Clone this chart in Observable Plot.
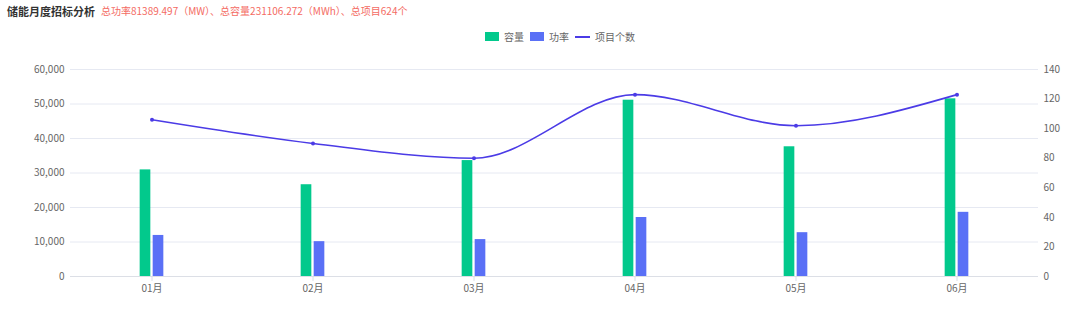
<!DOCTYPE html>
<html><head><meta charset="utf-8">
<script src="https://cdn.jsdelivr.net/npm/d3@7"></script>
<script src="https://cdn.jsdelivr.net/npm/@observablehq/plot@0.6"></script>
<style>
body{margin:0;background:#fff;font-family:"Noto Sans CJK SC","Noto Sans",sans-serif;}
#wrap{position:relative;width:1080px;height:309px;overflow:hidden;}
#head{position:absolute;left:0;top:0;width:1080px;height:50px;}
#title{position:absolute;left:7px;top:3px;font-size:11px;line-height:16px;font-weight:bold;color:#333;white-space:nowrap;}
#sub{position:absolute;left:101px;top:4px;font-size:10px;line-height:14px;color:#f46b63;white-space:nowrap;}
#legend{position:absolute;left:485px;top:29px;display:flex;align-items:center;font-size:10px;color:#666;white-space:nowrap;}
.sw{display:inline-block;width:14px;height:9px;margin-right:5px;}
.ln{display:inline-block;width:15px;height:2px;margin-right:5px;}
.it{display:flex;align-items:center;margin-right:6px;}
#chart{position:absolute;left:0;top:50px;}
</style></head>
<body>
<div id="wrap">
<div id="head">
<div id="title">储能月度招标分析</div>
<div id="sub">总功率81389.497（MW）、总容量231106.272（MWh）、总项目624个</div>
<div id="legend"></div>
</div>
<div id="chart"></div>
</div>
<script>
const months = ["01月","02月","03月","04月","05月","06月"];
const capacity = [30900, 26600, 33600, 51100, 37600, 51500];   // 容量 MWh
const power = [11900, 10100, 10700, 17100, 12700, 18600];      // 功率 MW
const projects = [106, 90, 80, 123, 102, 123];                 // 项目个数
const leftTicks = [0, 10000, 20000, 30000, 40000, 50000, 60000];
const rightTicks = [0, 20, 40, 60, 80, 100, 120, 140];
const seriesNames = ["容量", "功率", "项目个数"];
const colors = {green: "#02c98c", blue: "#5a70f6", line: "#4b3be6"};

const k = 60000 / 140;
const rows = months.map((m, i) => ({month: m, cap: capacity[i], pow: power[i], cnt: projects[i], cntScaled: projects[i] * k}));

// legend
const lg = document.getElementById("legend");
lg.innerHTML =
  `<span class="it"><span class="sw" style="background:${colors.green}"></span>${seriesNames[0]}</span>` +
  `<span class="it"><span class="sw" style="background:${colors.blue}"></span>${seriesNames[1]}</span>` +
  `<span class="it"><span class="ln" style="background:${colors.line}"></span>${seriesNames[2]}</span>`;

const W = 1080, H = 259, mL = 70, mR = 42;
const bw = (W - mL - mR) / months.length;

const chart = Plot.plot({
  width: W, height: H,
  marginTop: 19, marginBottom: 33, marginLeft: mL, marginRight: mR,
  style: {fontFamily: '"Noto Sans CJK SC","Noto Sans",sans-serif', fontSize: "10px", color: "#666", background: "#fff"},
  x: {type: "band", domain: months, padding: 0, label: null},
  y: {domain: [0, 60000], label: null},
  marks: [
    Plot.gridY(leftTicks, {stroke: "#e6e9f2", strokeOpacity: 1}),
    Plot.barY(rows, {x: "month", y: "cap", fill: colors.green, insetLeft: bw/2 - 12, insetRight: bw/2 + 1}),
    Plot.barY(rows, {x: "month", y: "pow", fill: colors.blue, insetLeft: bw/2 + 1, insetRight: bw/2 - 12}),
    Plot.ruleY([0], {stroke: "#dcdfe6"}),
    Plot.lineY(rows, {x: "month", y: "cntScaled", stroke: colors.line, strokeWidth: 1.6, curve: "monotone-x"}),
    Plot.dot(rows, {x: "month", y: "cntScaled", r: 2, fill: colors.line}),
    Plot.axisY(leftTicks, {anchor: "left", tickSize: 0, tickPadding: 6, tickFormat: d => d3.format(",")(d), label: null, fill: "#666"}),
    Plot.axisY(rightTicks.map(v => v * k), {anchor: "right", tickSize: 0, tickPadding: 5, tickFormat: d => Math.round(d / k), label: null, fill: "#666"}),
    Plot.axisX({tickSize: 5, tickPadding: 3, label: null, stroke: "#dcdfe6", fill: "#666"})
  ]
});
document.getElementById("chart").appendChild(chart);
</script>
</body></html>
